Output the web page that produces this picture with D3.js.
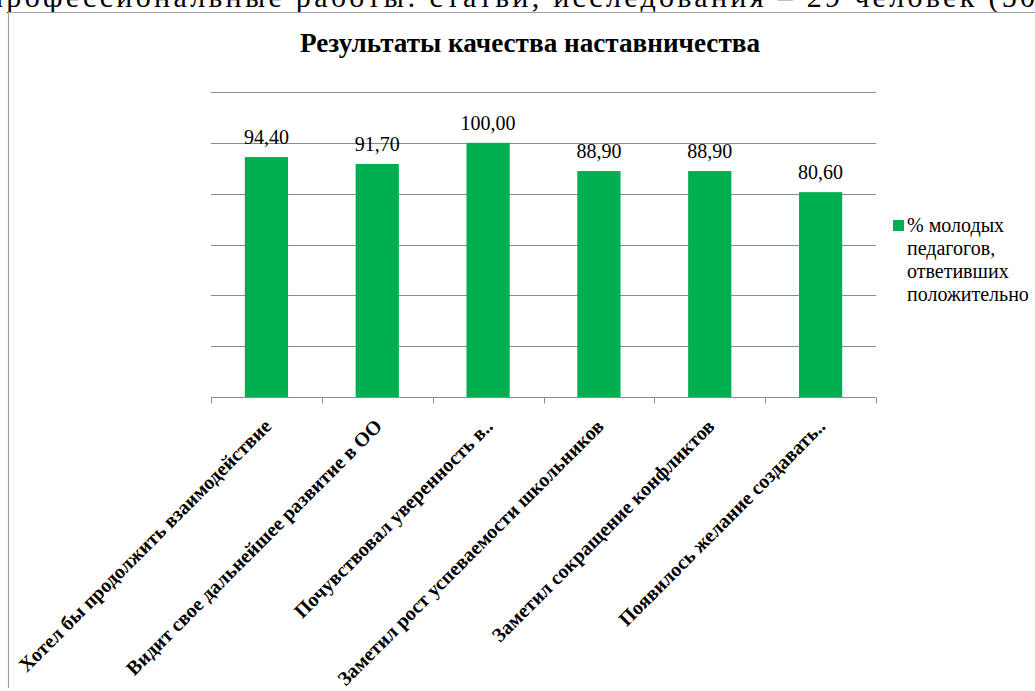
<!DOCTYPE html>
<html>
<head>
<meta charset="utf-8">
<script src="https://cdn.jsdelivr.net/npm/d3@7"></script>
<style>
  body { margin: 0; background: #fff; }
</style>
</head>
<body>
<div id="chart"></div>
<script>
// data
const categories = [
  "Хотел бы продолжить взаимодействие",
  "Видит свое дальнейшее развитие в ОО",
  "Почувствовал уверенность в..",
  "Заметил рост успеваемости школьников",
  "Заметил сокращение конфликтов",
  "Появилось желание создавать.."
];
const values = [94.4, 91.7, 100.0, 88.9, 88.9, 80.6];
const yTicks = [0, 20, 40, 60, 80, 100, 120];
const seriesName = ["% молодых", "педагогов,", "ответивших", "положительно"];
const chartTitle = "Результаты качества наставничества";
const pageText = "профессиональные работы: статьи, исследования – 29 человек (50";

const serif = "'Liberation Serif', 'DejaVu Serif', serif";

const W = 1035, H = 691;
const plot = {left: 211, right: 876, top: 92, bottom: 397};

const svg = d3.select("#chart")
  .append("svg")
    .attr("width", W)
    .attr("height", H)
    .attr("font-family", serif);

// line of document text cut off above the chart
svg.append("text")
  .attr("x", -13)
  .attr("y", 7)
  .attr("textLength", 1048)
  .attr("lengthAdjust", "spacing")
  .style("font-size", "30px")
  .style("fill", "#000")
  .text(pageText);

// chart frame (left and top edges visible)
svg.append("path")
  .attr("d", `M8.5,688V12.5H${W}`)
  .style("fill", "none")
  .style("stroke", "#a0a0a0")
  .style("stroke-width", 1.2);

// title
svg.append("text")
  .attr("x", 530)
  .attr("y", 52)
  .attr("textLength", 460)
  .attr("lengthAdjust", "spacingAndGlyphs")
  .style("text-anchor", "middle")
  .style("font-size", "27px")
  .style("font-weight", "bold")
  .text(chartTitle);

const x = d3.scaleBand()
  .domain(categories)
  .range([plot.left, plot.right])
  .padding(0);

const y = d3.scaleLinear()
  .domain([0, 120])
  .range([plot.bottom, plot.top]);

// gridlines
svg.append("g")
  .selectAll("line")
  .data(yTicks.filter(d => d > 0))
  .join("line")
    .attr("x1", plot.left)
    .attr("x2", plot.right)
    .attr("y1", d => Math.round(y(d)) + 0.5)
    .attr("y2", d => Math.round(y(d)) + 0.5)
    .style("stroke", "#8c8c8c")
    .style("stroke-width", 1);

// bars
const barW = x.bandwidth() * 0.39;
svg.append("g")
  .selectAll("rect")
  .data(values)
  .join("rect")
    .attr("x", (d, i) => x(categories[i]) + (x.bandwidth() - barW) / 2)
    .attr("y", d => y(d))
    .attr("width", barW)
    .attr("height", d => y(0) - y(d))
    .style("fill", "#00B050");

// value labels
svg.append("g")
  .selectAll("text")
  .data(values)
  .join("text")
    .attr("x", (d, i) => x(categories[i]) + x.bandwidth() / 2)
    .attr("y", d => y(d) - 13)
    .style("text-anchor", "middle")
    .style("font-size", "20px")
    .text(d => d3.format(".2f")(d).replace(".", ","));

// x axis: baseline, ticks between categories, rotated labels
const xAxis = svg.append("g")
  .attr("transform", `translate(0,${Math.round(y(0)) + 0.5})`);

xAxis.append("line")
  .attr("x1", plot.left)
  .attr("x2", plot.right)
  .style("stroke", "#8c8c8c");

const tickPos = categories.map(c => x(c)).concat([plot.right]);
xAxis.selectAll(".tick")
  .data(tickPos)
  .join("line")
    .attr("class", "tick")
    .attr("x1", d => Math.round(d) + 0.5)
    .attr("x2", d => Math.round(d) + 0.5)
    .attr("y1", 0)
    .attr("y2", 6)
    .style("stroke", "#8c8c8c");

xAxis.selectAll(".lbl")
  .data(categories)
  .join("text")
    .attr("class", "lbl")
    .attr("transform", d => `translate(${x(d) + x.bandwidth() / 2 + 6},${30}) rotate(-45)`)
    .style("text-anchor", "end")
    .style("font-size", "20px")
    .style("font-weight", "bold")
    .text(d => d);

// legend
const legend = svg.append("g")
  .attr("transform", "translate(893,220)");

legend.append("rect")
  .attr("width", 11)
  .attr("height", 11)
  .style("fill", "#00B050");

legend.selectAll("text")
  .data(seriesName)
  .join("text")
    .attr("x", d => 14)
    .attr("y", (d, i) => 12 + i * 23)
    .style("font-size", "20px")
    .text(d => d);
</script>
</body>
</html>
